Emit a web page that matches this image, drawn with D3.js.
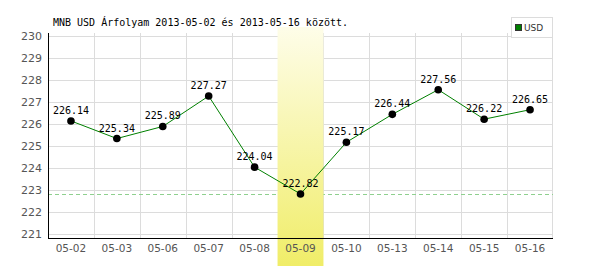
<!DOCTYPE html>
<html><head><meta charset="utf-8">
<script src="https://cdn.jsdelivr.net/npm/d3@7"></script>
<style>body{margin:0;background:#fff}svg{display:block}</style>
</head><body>
<svg id="c" width="600" height="270"></svg>
<script>
const categories = ["05-02","05-03","05-06","05-07","05-08","05-09","05-10","05-13","05-14","05-15","05-16"];
const usdValues = [226.14,225.34,225.89,227.27,224.04,222.82,225.17,226.44,227.56,226.22,226.65];
const yTicks = [221,222,223,224,225,226,227,228,229,230];
const labelTexts = ["226.14","225.34","225.89","227.27","224.04","222.82","225.17","226.44","227.56","226.22","226.65"];
const highlightCategory = "05-09";
const title = "MNB USD Árfolyam 2013-05-02 és 2013-05-16 között.";
const legendLabel = "USD";

const svg = d3.select("#c");
const L = 48, R = 553, T = 36, B = 238;
const minV = d3.min(usdValues);
const x = d3.scaleBand().domain(categories).range([L, R]);
const y = d3.scaleLinear().domain([minV - 2, 230]).range([B, T]);

const defs = svg.append("defs");
const grad = defs.append("linearGradient").attr("id","hl").attr("x1",0).attr("y1",0).attr("x2",0).attr("y2",1);
grad.append("stop").attr("offset","0%").attr("stop-color","#fefde9");
grad.append("stop").attr("offset","100%").attr("stop-color","#f0ed68");

// horizontal gridlines
svg.append("g").selectAll("line").data(yTicks).join("line")
  .attr("x1", L).attr("x2", R).attr("y1", d => Math.round(y(d)) + 0.5).attr("y2", d => Math.round(y(d)) + 0.5)
  .attr("stroke", "#dcdcdc").attr("stroke-width", 1);
// vertical gridlines
const bounds = categories.slice(1).map(c => x(c)).concat([R - 1]);
svg.append("g").selectAll("line").data(bounds).join("line")
  .attr("x1", d => Math.round(d) + 0.5).attr("x2", d => Math.round(d) + 0.5).attr("y1", 33).attr("y2", B)
  .attr("stroke", "#dcdcdc").attr("stroke-width", 1);

// min dashed line
svg.append("line").attr("x1", L).attr("x2", R).attr("y1", Math.round(y(minV)) + 0.5).attr("y2", Math.round(y(minV)) + 0.5)
  .attr("stroke", "#8fd08f").attr("stroke-dasharray", "4,3");

// highlight band
svg.append("rect").attr("x", x(highlightCategory)).attr("y", 27).attr("width", x.bandwidth()).attr("height", 266 - 27)
  .attr("fill", "url(#hl)");

// axes
svg.append("line").attr("x1", L + 0.5).attr("x2", L + 0.5).attr("y1", 33).attr("y2", B + 1).attr("stroke", "#000");
svg.append("line").attr("x1", L).attr("x2", R).attr("y1", B + 0.5).attr("y2", B + 0.5).attr("stroke", "#000");

// y labels
svg.append("g").selectAll("text").data(yTicks).join("text")
  .attr("x", 42).attr("y", d => y(d)).attr("dy", "0.36em").attr("text-anchor", "end")
  .attr("font-family", "DejaVu Sans").attr("font-size", 11).attr("fill", "#555").text(d => d);
// x labels
svg.append("g").selectAll("text").data(categories).join("text")
  .attr("x", d => x(d) + x.bandwidth() / 2).attr("y", 252).attr("text-anchor", "middle")
  .attr("font-family", "DejaVu Sans").attr("font-size", 10.5).attr("fill", "#555").text(d => d);

// line
const line = d3.line().x((d, i) => x(categories[i]) + x.bandwidth() / 2).y(d => y(d));
svg.append("path").datum(usdValues).attr("d", line).attr("fill", "none").attr("stroke", "#008000").attr("stroke-width", 1);

// points
svg.append("g").selectAll("circle").data(usdValues).join("circle")
  .attr("cx", (d, i) => x(categories[i]) + x.bandwidth() / 2).attr("cy", d => y(d)).attr("r", 3.8).attr("fill", "#000");

// value labels
svg.append("g").selectAll("text").data(usdValues).join("text")
  .attr("x", (d, i) => x(categories[i]) + x.bandwidth() / 2).attr("y", d => y(d) - 7).attr("text-anchor", "middle")
  .attr("font-family", "DejaVu Sans Mono").attr("font-size", 10).attr("fill", "#000").text((d, i) => labelTexts[i]);

// title
svg.append("text").attr("x", 53).attr("y", 26).attr("font-family", "DejaVu Sans Mono").attr("font-size", 10)
  .attr("fill", "#000").text(title);

// legend
const lg = svg.append("g");
lg.append("rect").attr("x", 511.5).attr("y", 17.5).attr("width", 41).attr("height", 20).attr("fill", "#fff").attr("stroke", "#dcdcdc");
lg.append("rect").attr("x", 515.5).attr("y", 24.5).attr("width", 6).attr("height", 6).attr("fill", "#008000").attr("stroke", "#333");
lg.append("text").attr("x", 524).attr("y", 31).attr("font-family", "DejaVu Sans").attr("font-size", 9).attr("fill", "#333").text(legendLabel);
</script>
</body></html>
